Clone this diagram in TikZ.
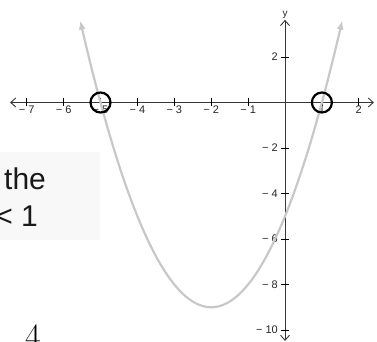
\documentclass[tikz,border=0pt]{standalone}
\usepackage{fontspec}
\newfontfamily\arialf{Liberation Sans}
\usetikzlibrary{arrows.meta}
\definecolor{curvegray}{RGB}{200,200,200}
\definecolor{boxgray}{RGB}{248,248,248}
\definecolor{axisgray}{RGB}{55,55,55}
\tikzset{
  barb/.tip={Straight Barb[length=5pt,width=9pt]},
  tipc/.tip={Latex[length=9pt,width=7pt]}
}
\begin{document}
\begin{tikzpicture}[x=1pt,y=1pt,
  axis/.style={draw=axisgray, line width=0.9pt},
  tickmark/.style={draw=black, line width=0.8pt},
  lbl/.style={font=\arialf\fontsize{11}{11}\selectfont, inner sep=0pt, text=black!85},
  curve/.style={draw=curvegray, line width=2.2pt},
  ring/.style={circle, draw=black, line width=2.2pt, minimum size=20pt, inner sep=0pt},
  bigtxt/.style={font=\arialf\fontsize{30}{30}\selectfont, inner sep=0pt, text=black!90}]
\useasboundingbox (0,0) rectangle (377,342);
\clip (0,0) rectangle (377,342);
% faint text box
\node[fill=boxgray, minimum width=100pt, minimum height=88pt, inner sep=0pt, anchor=south west] (box) at (0,102) {};
\node[bigtxt, anchor=base west] (t1) at (4,152) {the};
\node[bigtxt, anchor=base east] (t2) at (38,115) {< 1};
\node[font=\fontsize{34}{34}\selectfont, inner sep=0pt, anchor=base west] (four) at (25,-6) {4};
\begin{scope}[shift={(285,239.5)}, x=36.9pt, y=22.75pt]
  \coordinate (xl) at (-7.45,0);
  \coordinate (xr) at (2.41,0);
  \coordinate (yt) at (0,3.63);
  \coordinate (yb) at (0,-10.48);
  \draw[axis, barb-barb] (xl) -- (xr);
  \draw[axis, barb-barb] (yb) -- (yt);
  \foreach \i/\t in {-7/− 7,-6/− 6,-5/− 5,-4/− 4,-3/− 3,-2/− 2,-1/− 1,1/1,2/2} {
    \draw[tickmark] ([yshift=-4pt]\i,0) -- ([yshift=4pt]\i,0);
    \node[lbl, yshift=-7.5pt] (xt\i) at (\i,0) {\t};
  }
  \foreach \j/\t in {2/2,-2/− 2,-4/− 4,-6/− 6,-8/− 8,-10/− 10} {
    \draw[tickmark] ([xshift=-4pt]0,\j) -- ([xshift=4pt]0,\j);
    \node[lbl, anchor=east, xshift=-7pt] (yt\j) at (0,\j) {\t};
  }
  \node[lbl, font=\arialf\fontsize{10}{10}\selectfont, anchor=south, yshift=1.5pt] (ylab) at (yt) {y};
  \draw[curve, tipc-tipc, domain=-5.55:1.55, samples=100, smooth] plot (\x, {\x*\x+4*\x-5});
  \node[ring] (r1) at (-5,0) {};
  \node[ring] (r2) at (1,0) {};
\end{scope}
\end{tikzpicture}
\end{document}
